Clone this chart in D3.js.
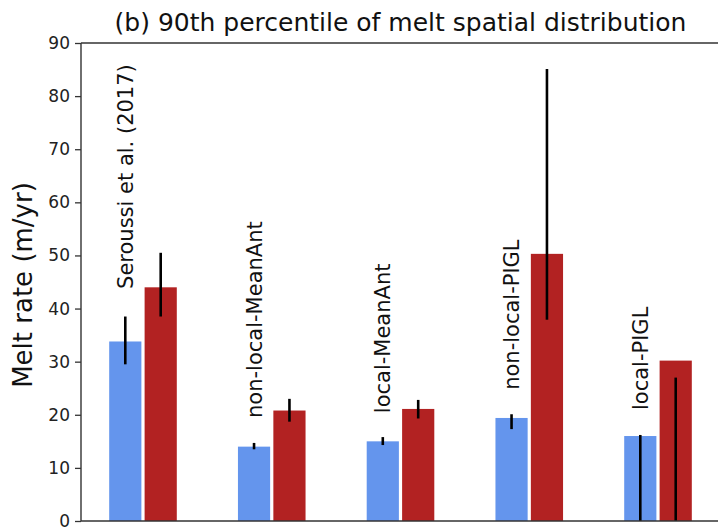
<!DOCTYPE html>
<html>
<head>
<meta charset="utf-8">
<script src="https://cdn.jsdelivr.net/npm/d3@7"></script>
<style>
  html, body { margin: 0; padding: 0; background: #fff; }
  svg { display: block; font-family: "DejaVu Sans", sans-serif; }
</style>
</head>
<body>
<svg id="chart" width="718" height="529"></svg>
<script>
// ---- data ----
const categories = ["Seroussi et al. (2017)", "non-local-MeanAnt", "local-MeanAnt", "non-local-PIGL", "local-PIGL"];
const blueValues = [33.8, 14.0, 15.0, 19.4, 16.0];
const blueErrLow = [29.5, 13.5, 14.3, 17.3, 0.0];
const blueErrHigh = [38.5, 14.7, 15.8, 20.1, 16.2];
const redValues = [44.0, 20.8, 21.1, 50.3, 30.2];
const redErrLow = [38.5, 18.7, 19.3, 37.9, 0.0];
const redErrHigh = [50.5, 23.0, 22.8, 85.1, 27.0];
const labelY = [43.7, 19.4, 20.3, 24.7, 20.9];
const yTicks = [0, 10, 20, 30, 40, 50, 60, 70, 80, 90];

(function () {
// ---- layout ----
const svg = d3.select("#chart");
const mLeft = 81, mRight = 720, mTop = 43, mBottom = 521;
const barW = 0.25, off = 0.1375;

const x = d3.scaleLinear().domain([-0.4815, 4.4815]).range([mLeft, mRight]);
const y = d3.scaleLinear().domain([0, 90]).range([mBottom, mTop]);

const idx = categories.map((d, i) => i);

const series = [
  { vals: blueValues, lo: blueErrLow, hi: blueErrHigh, shift: -off, color: "#6495ED" },
  { vals: redValues, lo: redErrLow, hi: redErrHigh, shift: off, color: "#B22222" }
];

series.forEach(s => {
  svg.append("g").selectAll("rect").data(idx).join("rect")
    .attr("x", i => x(i + s.shift - barW / 2))
    .attr("width", i => x(i + s.shift + barW / 2) - x(i + s.shift - barW / 2))
    .attr("y", i => y(s.vals[i]))
    .attr("height", i => y(0) - y(s.vals[i]))
    .attr("fill", s.color);
});
series.forEach(s => {
  svg.append("g").selectAll("line").data(idx).join("line")
    .attr("x1", i => x(i + s.shift))
    .attr("x2", i => x(i + s.shift))
    .attr("y1", i => y(s.lo[i]))
    .attr("y2", i => y(s.hi[i]))
    .attr("stroke", "#000")
    .attr("stroke-width", 2.6);
});

// category labels
svg.append("g").selectAll("text").data(idx).join("text")
  .attr("transform", i => `translate(${x(i - off)},${y(labelY[i])}) rotate(-90)`)
  .attr("dy", "0.36em")
  .attr("text-anchor", "start")
  .attr("font-size", 21)
  .attr("fill", "#111")
  .text(i => categories[i]);

// y axis
const yAxis = d3.axisLeft(y).tickValues(yTicks).tickSize(6).tickPadding(5);
const gy = svg.append("g").attr("transform", `translate(${mLeft},0)`).call(yAxis);
gy.select(".domain").remove();
gy.selectAll(".tick line").attr("stroke", "#333").attr("stroke-width", 1.3);
gy.selectAll(".tick text").attr("font-size", 17).attr("fill", "#222")
  .attr("font-family", "DejaVu Sans, sans-serif");

// spines
const spine = svg.append("g").attr("stroke", "#333").attr("stroke-width", 1.4).attr("fill", "none");
spine.append("line").attr("x1", mLeft).attr("x2", mLeft).attr("y1", mTop).attr("y2", mBottom);
spine.append("line").attr("x1", mLeft).attr("x2", mRight).attr("y1", mTop).attr("y2", mTop);
spine.append("line").attr("x1", mLeft).attr("x2", mRight).attr("y1", mBottom).attr("y2", mBottom);
spine.append("line").attr("x1", mRight).attr("x2", mRight).attr("y1", mTop).attr("y2", mBottom);

// title
svg.append("text")
  .attr("x", (mLeft + mRight) / 2)
  .attr("y", 31)
  .attr("text-anchor", "middle")
  .attr("font-size", 25)
  .attr("fill", "#111")
  .text("(b) 90th percentile of melt spatial distribution");

// y label
svg.append("text")
  .attr("transform", `translate(23,285) rotate(-90)`)
  .attr("dy", "0.36em")
  .attr("text-anchor", "middle")
  .attr("font-size", 26)
  .attr("fill", "#111")
  .text("Melt rate (m/yr)");
})();
</script>
</body>
</html>
